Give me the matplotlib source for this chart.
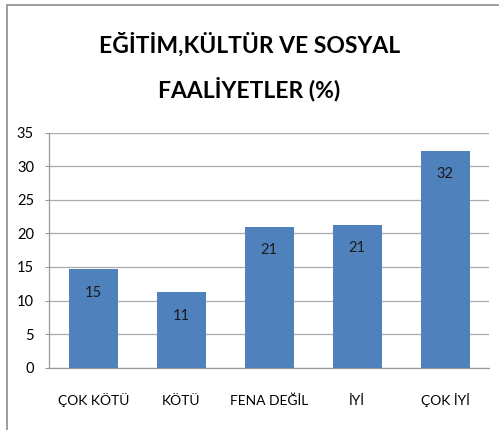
import numpy as np
import matplotlib.pyplot as plt
from matplotlib.patches import Rectangle

plt.rcParams['font.family'] = ['Lato', 'DejaVu Sans']

kategoriler = ['ÇOK KÖTÜ', 'KÖTÜ', 'FENA DEĞİL', 'İYİ', 'ÇOK İYİ']
yuzde = np.array([14.7, 11.2, 21.0, 21.3, 32.3])
etiket = ['15', '11', '21', '21', '32']

fig = plt.figure(figsize=(4.99, 4.30), dpi=100)
ax = fig.add_axes([0.0988, 0.1449, 0.8818, 0.5465])

x = np.arange(len(kategoriler))
bars = ax.bar(x, yuzde, width=0.56, color='#4F81BD', zorder=3)
for b, t in zip(bars, etiket):
    ax.annotate(t, (b.get_x() + b.get_width() / 2, b.get_height()),
                xytext=(0, -17), textcoords='offset points',
                ha='center', va='center', fontsize=10.5, color='#1a1a1a', zorder=4)

ax.set_xlim(-0.5, len(kategoriler) - 0.5)
ax.set_ylim(0, 35)
ax.set_yticks(np.arange(0, 36, 5))
ax.set_xticks(x)
ax.set_xticklabels(kategoriler, fontsize=10, va='baseline')
ax.tick_params(axis='y', labelsize=10.5, length=3, color='#9a9a9a', pad=8)
ax.tick_params(axis='x', length=0, pad=27)
ax.grid(axis='y', color='#ababab', linewidth=0.9, zorder=0)
for s in ['top', 'right']:
    ax.spines[s].set_visible(False)
for s in ['left', 'bottom']:
    ax.spines[s].set_color('#9a9a9a')
    ax.spines[s].set_linewidth(0.9)

fig.text(0.5, 0.897, 'EĞİTİM,KÜLTÜR VE SOSYAL', ha='center', va='center',
         fontsize=16.5, fontweight='bold')
fig.text(0.5, 0.793, 'FAALİYETLER (%)', ha='center', va='center',
         fontsize=16.5, fontweight='bold')

fig.patches.append(Rectangle((0.014, -0.1), 1.2, 1.088, transform=fig.transFigure,
                             fill=False, edgecolor='#8c8c8c', linewidth=1.2))

fig.savefig('out.png', dpi=100)
